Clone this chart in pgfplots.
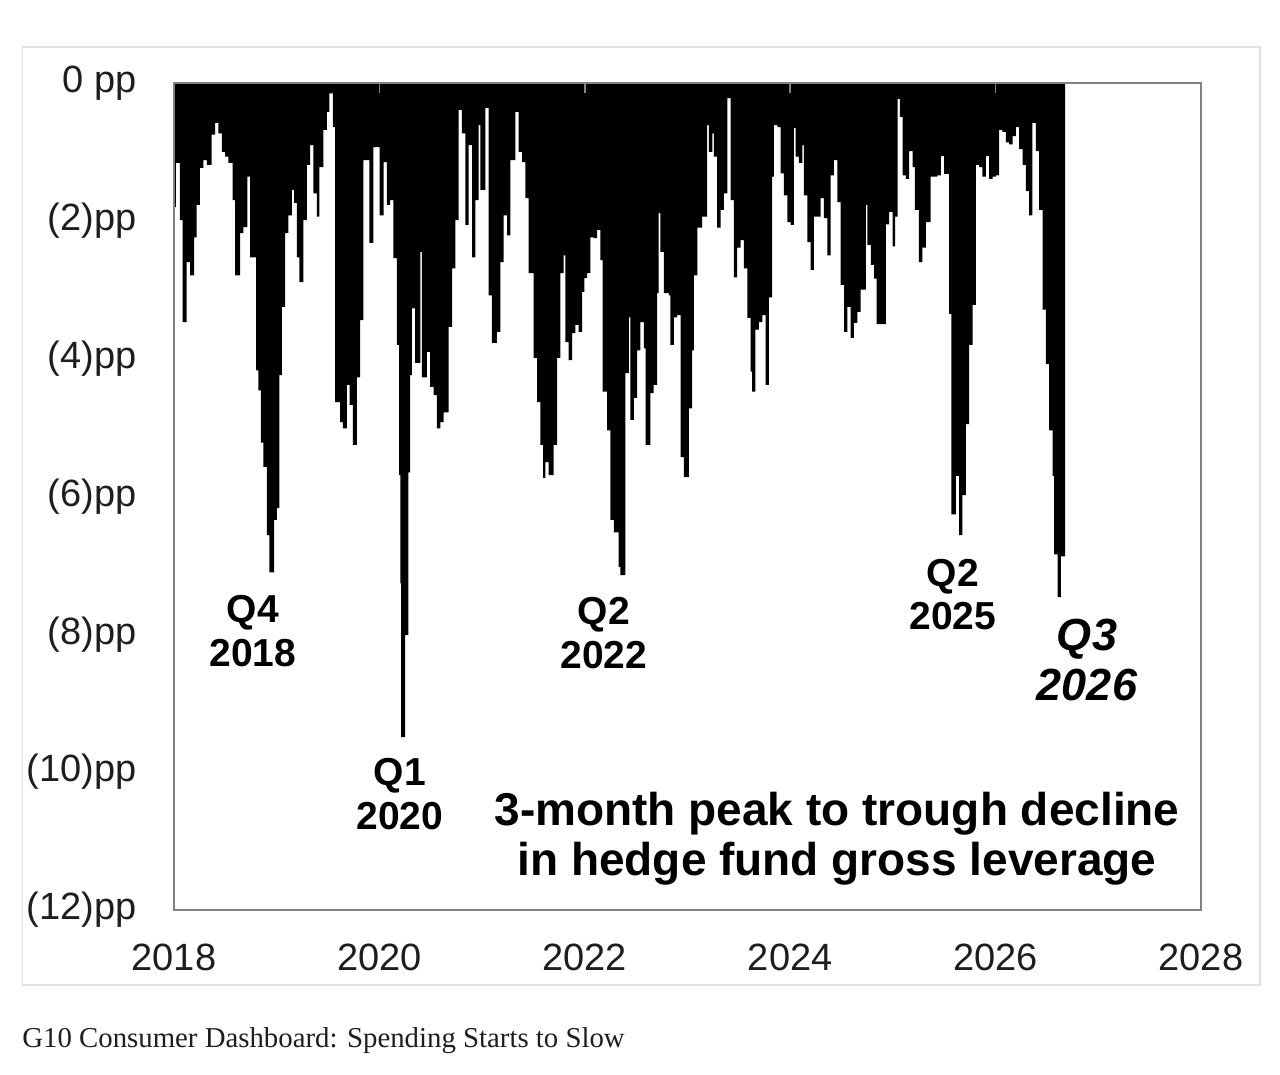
\documentclass[border=0pt]{standalone}
\usepackage{fontspec}
\setmainfont{Liberation Sans}
\newfontfamily\capfont{Liberation Serif}
\usepackage{pgfplots}
\pgfplotsset{compat=1.18}
\definecolor{axgray}{RGB}{130,130,130}
\definecolor{framegray}{RGB}{225,225,225}
\definecolor{txt}{RGB}{30,30,30}
\begin{document}
\begin{tikzpicture}
\path[use as bounding box] (0pt,0pt) rectangle (640pt,537.5pt);
\draw[framegray, line width=0.8pt] (11.3pt,45pt) rectangle (630pt,514pt);
\begin{axis}[
  at={(87pt,82.5pt)}, anchor=south west,
  scale only axis, width=513.5pt, height=413.5pt,
  xmin=2018, xmax=2028, ymin=-12, ymax=0,
  axis on top,
  axis line style={axgray, line width=0.75pt},
  xtick={2018,2020,2022,2024,2026,2028},
  xticklabels={2018,2020,2022,2024,2026,2028},
  ytick={-12,-10,-8,-6,-4,-2,0},
  yticklabels={(12)pp,(10)pp,(8)pp,(6)pp,(4)pp,(2)pp,0 pp},
  xtick pos=right, xticklabel pos=left,
  tick align=inside,
  major tick length=5pt,
  xtick style={axgray, line width=0.75pt},
  ytick style={draw=none},
  xticklabel style={anchor=center, yshift=-23.5pt, inner sep=0pt, text=txt, font=\fontsize{19}{20}\selectfont},
  yticklabel style={anchor=east, xshift=-18.5pt, inner sep=0pt, text=txt, font=\fontsize{19}{20}\selectfont},
  /pgf/number format/assume math mode=true,
]
\addplot[const plot, fill=black, draw=none] coordinates {
(2018.000,-1.80)(2018.019,-1.16)(2018.058,-1.99)(2018.085,-3.47)(2018.124,-2.60)(2018.156,-2.79)(2018.195,-2.24)(2018.221,-1.77)(2018.253,-1.23)(2018.286,-1.12)(2018.319,-1.19)(2018.367,-0.75)(2018.400,-0.58)(2018.432,-0.73)(2018.465,-1.00)(2018.497,-1.07)(2018.529,-1.16)(2018.572,-1.70)(2018.595,-2.79)(2018.643,-2.18)(2018.675,-2.09)(2018.714,-1.36)(2018.741,-2.53)(2018.799,-4.17)(2018.822,-4.46)(2018.845,-5.22)(2018.870,-5.57)(2018.904,-6.56)(2018.929,-7.10)(2018.975,-6.34)(2019.001,-6.17)(2019.026,-4.24)(2019.050,-3.25)(2019.082,-2.18)(2019.114,-1.92)(2019.147,-1.55)(2019.170,-1.74)(2019.196,-2.53)(2019.221,-2.89)(2019.260,-1.99)(2019.293,-1.19)(2019.326,-0.90)(2019.358,-1.60)(2019.391,-1.94)(2019.416,-1.22)(2019.455,-0.68)(2019.488,-0.42)(2019.514,-0.15)(2019.547,-0.64)(2019.569,-4.63)(2019.618,-4.92)(2019.644,-5.01)(2019.683,-4.38)(2019.709,-4.67)(2019.742,-5.25)(2019.781,-4.27)(2019.813,-3.44)(2019.845,-1.12)(2019.903,-2.32)(2019.942,-0.93)(2020.001,-1.92)(2020.040,-1.15)(2020.073,-1.77)(2020.105,-1.70)(2020.137,-2.54)(2020.171,-3.80)(2020.193,-5.69)(2020.203,-7.26)(2020.212,-9.49)(2020.251,-8.01)(2020.281,-5.65)(2020.300,-4.24)
(2020.317,-3.27)(2020.349,-4.06)(2020.398,-2.45)(2020.414,-4.27)(2020.463,-3.90)(2020.495,-4.41)(2020.527,-4.53)(2020.560,-5.01)(2020.593,-4.92)(2020.625,-4.78)(2020.673,-3.54)(2020.707,-2.69)(2020.739,-1.99)(2020.771,-0.39)(2020.804,-0.73)(2020.836,-2.06)(2020.868,-0.90)(2020.902,-2.53)(2020.934,-1.70)(2020.966,-0.61)(2020.982,-1.55)(2021.031,-0.36)(2021.063,-3.08)(2021.096,-3.77)(2021.145,-3.61)(2021.177,-2.60)(2021.210,-1.92)(2021.243,-2.21)(2021.275,-1.12)(2021.324,-0.42)(2021.356,-1.00)(2021.389,-1.15)(2021.421,-1.67)(2021.454,-2.76)(2021.502,-3.99)(2021.535,-4.63)(2021.567,-5.25)(2021.594,-5.73)(2021.616,-5.50)(2021.648,-5.69)(2021.697,-5.25)(2021.730,-3.99)(2021.762,-2.76)(2021.794,-2.50)(2021.811,-3.76)(2021.843,-4.02)(2021.876,-3.63)(2021.908,-3.51)(2021.941,-3.61)(2021.974,-3.03)(2021.996,-2.83)(2022.022,-2.76)(2022.055,-2.24)(2022.087,-2.25)(2022.120,-2.13)(2022.152,-2.57)(2022.174,-4.48)(2022.217,-5.04)(2022.250,-6.34)(2022.282,-6.52)(2022.330,-7.02)(2022.347,-7.14)(2022.396,-4.21)(2022.428,-3.40)
(2022.444,-4.89)(2022.477,-4.57)(2022.510,-3.88)(2022.542,-3.47)(2022.574,-3.85)(2022.591,-5.25)(2022.639,-4.50)(2022.671,-4.38)(2022.705,-3.05)(2022.720,-1.89)(2022.737,-2.45)(2022.769,-3.05)(2022.818,-3.08)(2022.834,-3.80)(2022.867,-3.40)(2022.900,-3.37)(2022.932,-5.43)(2022.964,-5.72)(2023.013,-4.72)(2023.046,-3.88)(2023.062,-2.79)(2023.095,-2.10)(2023.143,-1.94)(2023.192,-0.61)(2023.208,-1.00)(2023.241,-0.73)(2023.256,-1.07)(2023.289,-2.10)(2023.322,-1.84)(2023.354,-1.60)(2023.387,-0.22)(2023.419,-1.70)(2023.451,-2.82)(2023.484,-2.39)(2023.516,-2.28)(2023.549,-2.69)(2023.582,-3.41)(2023.614,-4.19)(2023.630,-4.48)(2023.662,-3.58)(2023.695,-3.47)(2023.728,-3.37)(2023.760,-4.38)(2023.792,-3.11)(2023.825,-1.36)(2023.841,-0.61)(2023.874,-0.64)(2023.906,-1.31)(2023.939,-1.63)(2023.972,-2.02)(2024.004,-2.06)(2024.036,-0.65)(2024.053,-1.07)(2024.085,-1.16)(2024.118,-0.90)(2024.134,-1.63)(2024.167,-2.31)(2024.199,-2.71)(2024.231,-1.94)(2024.297,-1.67)(2024.329,-1.96)(2024.362,-2.50)(2024.394,-1.34)(2024.426,-1.12)(2024.459,-1.73)(2024.491,-2.93)(2024.524,-3.61)(2024.557,-3.25)(2024.589,-3.70)(2024.621,-3.48)(2024.654,-3.32)(2024.686,-3.00)
(2024.737,-1.77)(2024.752,-2.35)(2024.786,-2.64)(2024.818,-2.84)(2024.841,-3.50)(2024.932,-2.05)(2024.964,-1.87)(2024.997,-2.37)(2025.022,-1.94)(2025.046,-0.23)(2025.068,-0.49)(2025.094,-1.34)(2025.127,-1.39)(2025.159,-0.99)(2025.192,-1.22)(2025.214,-1.84)(2025.254,-2.60)(2025.287,-2.39)(2025.320,-2.02)(2025.368,-1.36)(2025.434,-1.34)(2025.466,-1.06)(2025.498,-1.32)(2025.547,-3.35)(2025.570,-6.26)(2025.612,-5.70)(2025.644,-6.56)(2025.677,-5.98)(2025.710,-4.95)(2025.742,-3.80)(2025.775,-3.22)(2025.807,-1.19)(2025.839,-1.22)(2025.872,-1.36)(2025.904,-1.06)(2025.937,-1.39)(2025.970,-1.36)(2026.002,-1.34)(2026.034,-0.68)(2026.067,-0.71)(2026.099,-0.86)(2026.131,-0.89)(2026.165,-0.77)(2026.197,-0.64)(2026.229,-0.96)(2026.262,-1.19)(2026.294,-1.57)(2026.327,-1.92)(2026.359,-0.58)(2026.392,-0.99)(2026.424,-1.84)(2026.457,-3.29)(2026.490,-4.08)(2026.521,-5.04)(2026.555,-5.70)(2026.570,-6.84)(2026.603,-7.46)(2026.635,-6.87)(2026.677,-6.87)
} \closedcycle;
\end{axis}
\begin{scope}[every node/.style={inner sep=0pt, anchor=base, text=black}]
\node[font=\fontsize{19.5}{20}\selectfont\bfseries] at (126.5pt,226pt) {Q4};
\node[font=\fontsize{19.5}{20}\selectfont\bfseries] at (126.5pt,204pt) {2018};
\node[font=\fontsize{19.5}{20}\selectfont\bfseries] at (200pt,144.5pt) {Q1};
\node[font=\fontsize{19.5}{20}\selectfont\bfseries] at (200pt,122.5pt) {2020};
\node[font=\fontsize{19.5}{20}\selectfont\bfseries] at (302pt,225pt) {Q2};
\node[font=\fontsize{19.5}{20}\selectfont\bfseries] at (302pt,203pt) {2022};
\node[font=\fontsize{19.5}{20}\selectfont\bfseries] at (476.5pt,244pt) {Q2};
\node[font=\fontsize{19.5}{20}\selectfont\bfseries] at (476.5pt,222.5pt) {2025};
\node[font=\fontsize{22.5}{24}\selectfont\bfseries\itshape] at (543.5pt,212pt) {Q3};
\node[font=\fontsize{22.5}{24}\selectfont\bfseries\itshape] at (543.5pt,187pt) {2026};
\node[font=\fontsize{23}{24}\selectfont\bfseries] at (418.5pt,124.5pt) {3-month peak to trough decline};
\node[font=\fontsize{23}{24}\selectfont\bfseries] at (418.5pt,99.5pt) {in hedge fund gross leverage};
\node[anchor=base west, text=txt, font=\capfont\fontsize{14.4}{16}\selectfont] at (11pt,13.5pt) {G10 Consumer Dashboard: Spending Starts to Slow};
\end{scope}
\end{tikzpicture}
\end{document}
